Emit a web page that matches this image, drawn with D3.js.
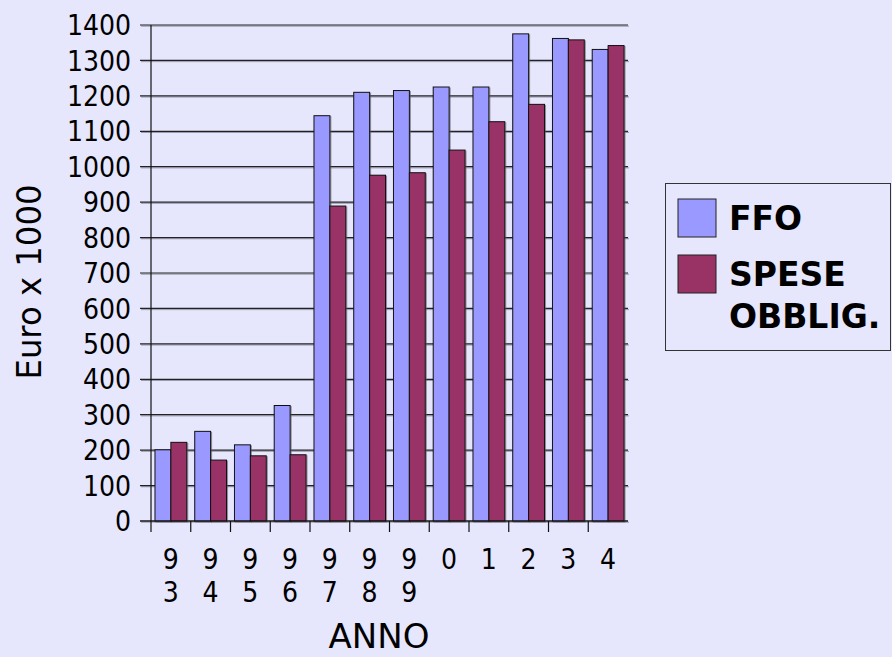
<!DOCTYPE html>
<html>
<head>
<meta charset="utf-8">
<script src="https://cdn.jsdelivr.net/npm/d3@7"></script>
<style>
  body { margin: 0; background: #e6e6fc; }
  svg { display: block; font-family: "DejaVu Sans", Verdana, sans-serif; }
  .cond { font-family: "DejaVu Sans Condensed", "DejaVu Sans", sans-serif; font-stretch: condensed; }
</style>
</head>
<body>
<svg id="chart" width="892" height="657"></svg>
<script>
// data
var years = ['93', '94', '95', '96', '97', '98', '99', '0', '1', '2', '3', '4'];
var ffo = [201, 253, 215, 326, 1144, 1210, 1215, 1225, 1225, 1375, 1362, 1331];
var spese = [222, 172, 184, 187, 889, 976, 983, 1047, 1127, 1176, 1358, 1342];
var seriesNames = ['FFO', 'SPESE OBBLIG.'];
var seriesColors = ['#9999ff', '#993366'];
var yTicks = d3.range(0, 1401, 100);

var svg = d3.select('#chart');
var plotL = 151, plotR = 628, plotT = 25, plotB = 521;

var x = d3.scaleBand().domain(years).range([plotL, plotR]).paddingInner(0).paddingOuter(0);
var inner = d3.scaleBand().domain([0, 1]).range([0, x.bandwidth()]).paddingOuter(0.25).paddingInner(0);
var y = d3.scaleLinear().domain([0, 1400]).range([plotB, plotT]);

// shadow filter for the bars
var defs = svg.append('defs');
var f = defs.append('filter').attr('id', 'sh').attr('x', '-20%').attr('y', '-20%').attr('width', '140%').attr('height', '140%');
f.append('feDropShadow').attr('dx', 1).attr('dy', 1).attr('stdDeviation', 0.6)
  .attr('flood-color', '#555').attr('flood-opacity', 0.6);

// gridlines (grey shadow line + dark line)
var grid = svg.append('g');
grid.selectAll('line.s').data(yTicks).enter().append('line').attr('class', 's')
    .attr('x1', plotL - 10).attr('x2', plotR + 1)
    .attr('y1', function(d) { return y(d) + 1.2; }).attr('y2', function(d) { return y(d) + 1.2; })
    .attr('stroke', '#9a9ab0').attr('stroke-width', 1);
grid.selectAll('line.g').data(yTicks).enter().append('line').attr('class', 'g')
    .attr('x1', plotL - 11).attr('x2', plotR)
    .attr('y1', function(d) { return y(d); }).attr('y2', function(d) { return y(d); })
    .attr('stroke', '#222').attr('stroke-width', 1.2);

// y labels
svg.append('g').attr('class', 'cond').selectAll('text').data(yTicks).enter().append('text')
    .attr('x', 131).attr('y', function(d) { return y(d); })
    .attr('dy', '0.36em').attr('text-anchor', 'end')
    .attr('font-size', 28).text(function(d) { return d; });

// bars
var data = [ffo, spese];
var groups = svg.append('g').selectAll('g').data(years).enter().append('g')
    .attr('transform', function(d) { return 'translate(' + x(d) + ',0)'; });

groups.selectAll('rect')
    .data(function(d, i) { return data.map(function(s, k) { return { k: k, v: s[i] }; }); })
    .enter().append('rect')
    .attr('x', function(d) { return inner(d.k); })
    .attr('width', inner.bandwidth())
    .attr('y', function(d) { return y(d.v); })
    .attr('height', function(d) { return y(0) - y(d.v); })
    .attr('fill', function(d) { return seriesColors[d.k]; })
    .attr('stroke', '#111').attr('stroke-width', 1)
    .attr('filter', 'url(#sh)');

// axes lines
svg.append('line').attr('x1', plotL).attr('x2', plotL).attr('y1', plotT).attr('y2', plotB)
    .attr('stroke', '#111').attr('stroke-width', 1.2);
svg.append('line').attr('x1', plotL - 11).attr('x2', plotR).attr('y1', plotB).attr('y2', plotB)
    .attr('stroke', '#111').attr('stroke-width', 1.2);
svg.append('g').selectAll('line').data(years).enter().append('line')
    .attr('x1', function(d) { return x(d); }).attr('x2', function(d) { return x(d); })
    .attr('y1', plotB).attr('y2', plotB + 11)
    .attr('stroke', '#111').attr('stroke-width', 1.2);

// x labels, one character per line
var xl = svg.append('g').attr('class', 'cond').selectAll('text').data(years).enter().append('text')
    .attr('text-anchor', 'middle').attr('font-size', 28);
xl.selectAll('tspan').data(function(d) { return d.split(''); }).enter().append('tspan')
    .attr('x', function() { return x(this.parentNode.__data__) + x.bandwidth() / 2; })
    .attr('y', function(d, i) { return 569 + i * 33; })
    .text(function(d) { return d; });

// axis titles
svg.append('text').attr('x', 379).attr('y', 648).attr('text-anchor', 'middle')
    .attr('font-size', 34).text('ANNO');
svg.append('text').attr('transform', 'translate(41,282) rotate(-90)')
    .attr('text-anchor', 'middle').attr('font-size', 33)
    .attr('textLength', 195).attr('lengthAdjust', 'spacingAndGlyphs').text('Euro x 1000');

// legend
var lg = svg.append('g');
lg.append('rect').attr('x', 665.5).attr('y', 183.5).attr('width', 225).attr('height', 167)
    .attr('fill', 'none').attr('stroke', '#333').attr('stroke-width', 1);
var items = lg.selectAll('g').data(seriesNames).enter().append('g')
    .attr('transform', function(d, i) { return 'translate(678,' + (199 + i * 56) + ')'; });
items.append('rect').attr('width', 38).attr('height', 38)
    .attr('fill', function(d, i) { return seriesColors[i]; })
    .attr('stroke', '#222').attr('stroke-width', 1);
var lt = items.append('text').attr('font-size', 33).attr('font-weight', 'bold');
lt.selectAll('tspan').data(function(d) { return d.split(' '); }).enter().append('tspan')
    .attr('x', 51).attr('y', function(d, i) { return 31 + i * 42; })
    .text(function(d) { return d; });
</script>
</body>
</html>
